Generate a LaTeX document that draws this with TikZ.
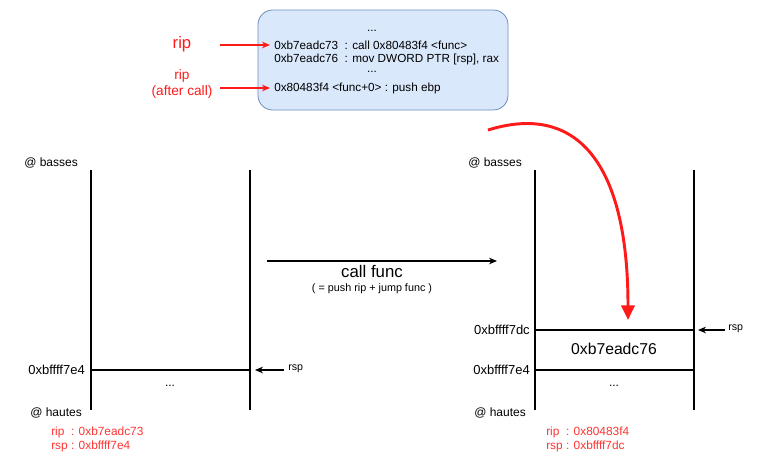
\documentclass[tikz,border=0pt]{standalone}
\usepackage{fontspec}
\setmainfont{Liberation Sans}
\usetikzlibrary{arrows.meta}
\definecolor{boxfill}{HTML}{DAE8FC}
\definecolor{boxline}{HTML}{6C8EBF}
\definecolor{redc}{HTML}{FF1A1A}
\definecolor{redt}{HTML}{FF3333}
\tikzset{
  px/.style={x=0.75pt,y=-0.75pt},
  lbl/.style={inner sep=0pt,font=\fontsize{9pt}{10pt}\selectfont},
  addr/.style={inner sep=0pt,anchor=east,font=\fontsize{9.75pt}{11pt}\selectfont},
  code/.style={inner sep=0pt,anchor=west,font=\fontsize{8.8pt}{10pt}\selectfont},
  redlbl/.style={inner sep=0pt,text=redc,align=center},
  redinfo/.style={inner sep=0pt,anchor=west,text=redt,font=\fontsize{8.9pt}{10pt}\selectfont},
  stackline/.style={line width=0.8pt},
  blk/.style={-{Stealth[length=6pt,width=5pt]},line width=0.8pt},
  redarr/.style={-{Stealth[length=6pt,width=5pt]},line width=0.8pt,draw=redc},
  small/.style={inner sep=0pt,font=\fontsize{8pt}{9pt}\selectfont},
}
\begin{document}
\begin{tikzpicture}[px]
\useasboundingbox (0,0) rectangle (766,472);
% code box
\draw[fill=boxfill,draw=boxline,rounded corners=11pt,line width=0.6pt] (258,10) rectangle (508,110);
\node[code,anchor=center] (d1) at (372,31) {...};
\node[code] (c1) at (274,45) {0xb7eadc73\ \ : call 0x80483f4 <func>};
\node[code] (c2) at (274,59) {0xb7eadc76\ \ : mov DWORD PTR [rsp], rax};
\node[code,anchor=center] (d2) at (372,72) {...};
\node[code] (c3) at (274,88) {0x80483f4 <func+0> : push ebp};
% rip labels
\node[redlbl,font=\fontsize{12.5pt}{14pt}\selectfont] (rip1) at (182,44) {rip};
\node[redlbl,font=\fontsize{10.25pt}{12.5pt}\selectfont] (rip2) at (182,84) {rip\\(after call)};
\coordinate (r1s) at (220,45);
\coordinate (r2s) at (220,88);
\draw[redarr] (r1s) -- ([xshift=-3]c1.west);
\draw[redarr] (r2s) -- ([xshift=-3]c3.west);
% left stack
\coordinate (lt1) at (91,170); \coordinate (lb1) at (91,410);
\coordinate (lt2) at (250,170); \coordinate (lb2) at (250,410);
\draw[stackline] (lt1) -- (lb1);
\draw[stackline] (lt2) -- (lb2);
\coordinate (lh1) at (91,370); \coordinate (lh2) at (250,370);
\draw[stackline] (lh1) -- (lh2);
\node[lbl,anchor=west] (lbas) at (24,163) {@ basses};
\node[addr] (laddr) at (85,370) {0xbffff7e4};
\node[lbl] (ldots) at (170,386) {...};
\node[lbl,anchor=west] (lhau) at (30,413) {@ hautes};
\node[small,anchor=west] (lrsp) at (288,369) {rsp};
\coordinate (lrspt) at (255,370);
\draw[blk] (lrsp.west) ++(-4,1) -- (lrspt);
\node[redinfo] (lrip) at (51,432) {rip\ \ : 0xb7eadc73};
\node[redinfo] (lrspv) at (51,446) {rsp : 0xbffff7e4};
% middle arrow
\coordinate (ms) at (267,261); \coordinate (me) at (497,261);
\draw[blk] (ms) -- (me);
\node[inner sep=0pt,font=\fontsize{12.6pt}{14pt}\selectfont] (callf) at (372,271) {call func};
\node[inner sep=0pt,font=\fontsize{8.1pt}{9pt}\selectfont] (callsub) at (372,289) {( = push rip + jump func )};
% right stack
\coordinate (rt1) at (535,170); \coordinate (rb1) at (535,410);
\coordinate (rt2) at (694,170); \coordinate (rb2) at (694,410);
\draw[stackline] (rt1) -- (rb1);
\draw[stackline] (rt2) -- (rb2);
\coordinate (rh1) at (535,330); \coordinate (rh2) at (694,330);
\coordinate (rh3) at (535,370); \coordinate (rh4) at (694,370);
\draw[stackline] (rh1) -- (rh2);
\draw[stackline] (rh3) -- (rh4);
\node[lbl,anchor=west] (rbas) at (468,163) {@ basses};
\node[addr] (raddr1) at (530,330) {0xbffff7dc};
\node[addr] (raddr2) at (530,370) {0xbffff7e4};
\node[inner sep=0pt,font=\fontsize{11.8pt}{13pt}\selectfont] (rval) at (614,349) {0xb7eadc76};
\node[lbl] (rdots) at (614,386) {...};
\node[lbl,anchor=west] (rhau) at (474,413) {@ hautes};
\node[small,anchor=west] (rrsp) at (728,329) {rsp};
\coordinate (rrspt) at (698,330);
\draw[blk] (rrsp.west) ++(-3,1) -- (rrspt);
\node[redinfo] (rrip) at (546,432) {rip\ \ : 0x80483f4};
\node[redinfo] (rrspv) at (546,446) {rsp : 0xbffff7dc};
% red curved arrow
\coordinate (cs) at (488,130);
\coordinate (ce) at (628,320);
\draw[draw=redc,line width=2.2pt,-{Triangle[length=11pt,width=10pt]}] (cs) .. controls (575,103) and (628,160) .. (ce);
\end{tikzpicture}
\end{document}
